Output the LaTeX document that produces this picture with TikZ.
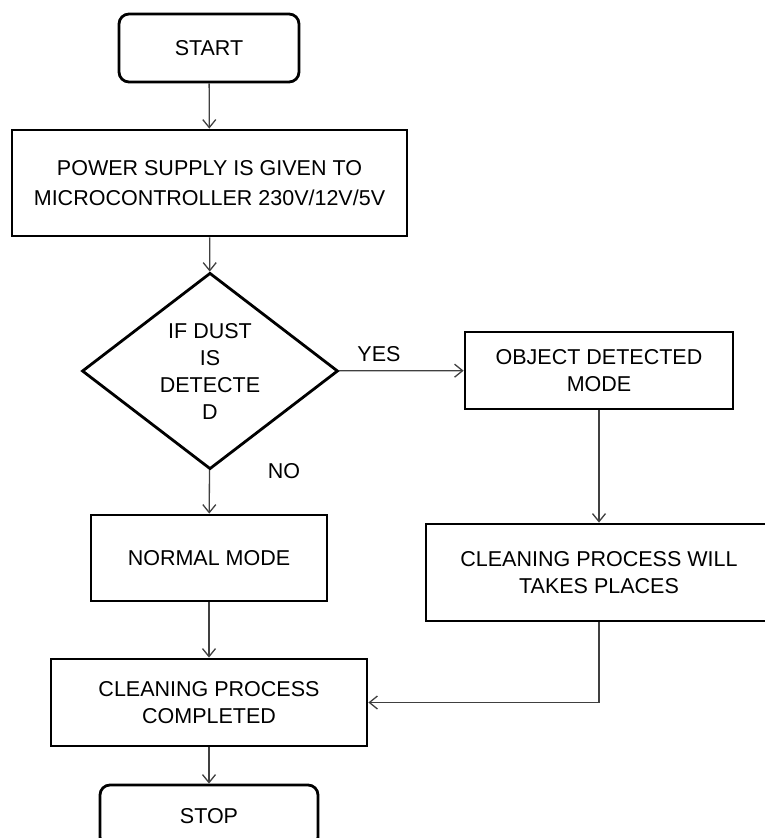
\documentclass[tikz,border=0pt]{standalone}
\usepackage{fontspec}
\setmainfont{Liberation Sans}
\usetikzlibrary{shapes.geometric,arrows.meta}

\begin{document}
\begin{tikzpicture}[x=1pt,y=-1pt,
        every node/.append style={font=\fontsize{21.5}{27}\selectfont, align=center},
        proc/.style={draw, line width=2.8pt, rectangle, inner sep=0pt},
        term/.style={proc, rounded corners=10pt},
        cond/.style={draw, line width=2.8pt, diamond, inner sep=0pt},
        flow/.style={draw=black!75, line width=1.3pt, -{Straight Barb[length=8pt,width=13pt,line width=1.3pt]}}]
    \useasboundingbox (0,0) rectangle (765,838);
    % boxes
    \node[term, minimum width=180pt, minimum height=68pt] (start) at (209,48) {START};
    \node[proc, minimum width=395pt, minimum height=106pt] (power) at (209.5,183) {POWER SUPPLY IS GIVEN TO\\[3pt] MICROCONTROLLER 230V/12V/5V};
    \node[cond, minimum width=256pt, minimum height=173pt] (dust) at (210,371) {IF DUST\\ IS\\ DETECTE\\ D};
    \node[proc, minimum width=268pt, minimum height=77pt] (objmode) at (599,370.5) {OBJECT DETECTED\\ MODE};
    \node[proc, minimum width=236pt, minimum height=86pt] (normal) at (209,558) {NORMAL MODE};
    \node[proc, minimum width=346pt, minimum height=97pt] (cleanwill) at (599,572.5) {CLEANING PROCESS WILL\\ TAKES PLACES};
    \node[proc, minimum width=316pt, minimum height=87pt] (done) at (209,702.5) {CLEANING PROCESS\\ COMPLETED};
    \node[term, minimum width=218pt, minimum height=62pt] (stop) at (209,816) {STOP};
    % labels
    \node (yes) at (379,354) {YES};
    \node (no) at (284,471) {NO};
    % arrows
    \draw[flow] (start) -- (power);
    \draw[flow] (power) -- (dust);
    \draw[flow] (dust) -- (objmode);
    \draw[flow] (dust) -- (normal);
    \draw[flow] (objmode) -- (cleanwill);
    \draw[flow] (normal) -- (done);
    \draw[flow] (cleanwill.south) |- (done.east);
    \draw[flow] (done) -- (stop);
\end{tikzpicture}
\end{document}
